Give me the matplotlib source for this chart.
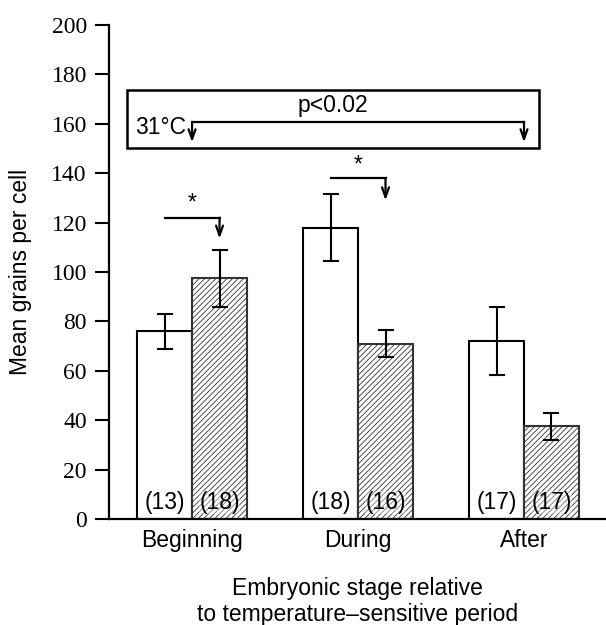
"""Mean grains per cell at three embryonic stages (control vs 31 C)"""
import matplotlib
matplotlib.use("Agg")
import matplotlib.pyplot as plt
import numpy as np

plt.rcParams['font.family'] = ['Liberation Sans', 'DejaVu Sans']
plt.rcParams['hatch.linewidth'] = 0.6

stages = ['Beginning', 'During', 'After']
open_means = [76, 118, 72]
open_err = [7, 13.5, 13.7]
hatched_means = [97.5, 71, 37.5]
hatched_err = [11.5, 5.5, 5.5]
open_n = ['(13)', '(18)', '(17)']
hatched_n = ['(18)', '(16)', '(17)']
y_ticks = [0, 20, 40, 60, 80, 100, 120, 140, 160, 180, 200]

FS = 16.5
WIDTH = 0.331


def draw_arrow(ax, x, y_from, y_to):
    """open V arrow pointing down"""
    ax.annotate('', xy=(x, y_to), xytext=(x, y_from),
                arrowprops=dict(arrowstyle='->,head_length=0.7,head_width=0.25',
                                lw=1.6, color='black', shrinkA=0, shrinkB=0))


def main():
    fig = plt.figure(figsize=(6.06, 6.25), dpi=100)
    ax = fig.add_axes([0.18, 0.1696, 0.82, 0.7904])
    x = np.arange(len(stages))

    ax.bar(x - WIDTH / 2, open_means, WIDTH, color='white', edgecolor='black', lw=1.5,
           yerr=open_err, capsize=6, error_kw=dict(lw=1.5, capthick=1.5, ecolor='black'))
    ax.bar(x + WIDTH / 2, hatched_means, WIDTH, color='white', edgecolor='#333333', lw=1.5,
           hatch='//////', yerr=hatched_err, capsize=6,
           error_kw=dict(lw=1.5, capthick=1.5, ecolor='black'))
    for i in range(len(stages)):
        ax.text(x[i] - WIDTH / 2, 6.5, open_n[i], ha='center', va='center', fontsize=FS)
        ax.text(x[i] + WIDTH / 2, 6.5, hatched_n[i], ha='center', va='center', fontsize=FS,
                bbox=dict(facecolor='white', edgecolor='none', alpha=0.35, pad=0))

    # significance brackets
    for i, y_line, y_star in [(0, 122, 128), (1, 138, 143.5)]:
        ax.plot([x[i] - WIDTH / 2, x[i] + WIDTH / 2], [y_line, y_line], color='black', lw=1.6)
        draw_arrow(ax, x[i] + WIDTH / 2, y_line, 113.5 if i == 0 else 129)
        ax.text(x[i], y_star, '*', ha='center', va='center', fontsize=FS)

    # 31 C box
    ax.add_patch(plt.Rectangle((-0.393, 150.2), 2.483, 23.5, fill=False, lw=1.8,
                               edgecolor='black'))
    ax.text(0.85, 167.5, 'p<0.02', ha='center', va='center', fontsize=FS)
    ax.text(-0.343, 158.7, '31°C', ha='left', va='center', fontsize=FS)
    ax.plot([0, 2], [160.8, 160.8], color='black', lw=1.6)
    draw_arrow(ax, 0, 160.8, 152.5)
    draw_arrow(ax, 2, 160.8, 152.5)

    ax.set_xlim(-0.5, 2.494)
    ax.set_ylim(0, 200)
    ax.set_yticks(y_ticks)
    ax.set_yticklabels([str(v) for v in y_ticks], family='Liberation Serif', fontsize=17)
    ax.set_xticks(x)
    ax.set_xticklabels(stages, fontsize=FS)
    ax.tick_params(axis='y', length=10, width=1.5, pad=6)
    ax.tick_params(axis='x', length=0, pad=7)
    for side in ['top', 'right']:
        ax.spines[side].set_visible(False)
    ax.spines['left'].set_linewidth(1.6)
    ax.spines['bottom'].set_linewidth(1.6)
    ax.set_ylabel('Mean grains per cell', fontsize=FS, labelpad=14)
    ax.set_xlabel('Embryonic stage relative\nto temperature\u2013sensitive period',
                  fontsize=FS, labelpad=18, linespacing=1.2)
    fig.savefig('out.png', dpi=100)


if __name__ == "__main__":
    main()
